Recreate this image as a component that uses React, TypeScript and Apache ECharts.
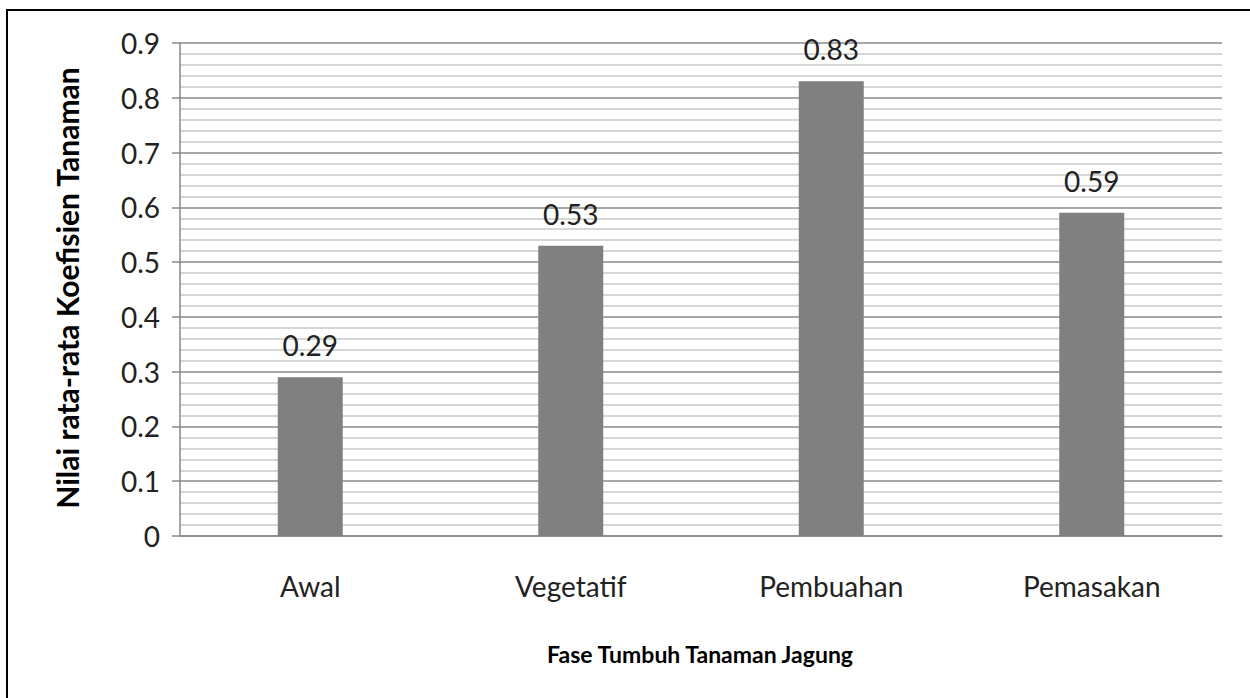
import React, { useEffect, useRef } from "react";
import * as echarts from "echarts";

const categories = ["Awal", "Vegetatif", "Pembuahan", "Pemasakan"];
const values = [0.29, 0.53, 0.83, 0.59];
const yTitle = "Nilai rata-rata Koefisien Tanaman";
const xTitle = "Fase Tumbuh Tanaman Jagung";

const FONT = "Lato, 'Open Sans', sans-serif";

export default function App() {
  const ref = useRef<HTMLDivElement>(null);
  useEffect(() => {
    if (!ref.current) return;
    const chart = echarts.init(ref.current, undefined, { renderer: "svg" });
    chart.setOption({
      animation: false,
      backgroundColor: "#ffffff",
      grid: { left: 180, right: 28, top: 43, bottom: 162, containLabel: false },
      graphic: [
        { type: "line", shape: { x1: 7, y1: 9, x2: 7, y2: 698 }, style: { stroke: "#000", lineWidth: 2 } },
        { type: "line", shape: { x1: 6, y1: 10, x2: 1250, y2: 10 }, style: { stroke: "#000", lineWidth: 2 } },
        {
          type: "text",
          x: 700,
          y: 654,
          style: { text: xTitle, font: `bold 23px ${FONT}`, fill: "#000", textAlign: "center", textVerticalAlign: "middle" },
        },
        {
          type: "text",
          x: 67,
          y: 288,
          rotation: Math.PI / 2,
          style: { text: yTitle, font: `bold 30px ${FONT}`, fill: "#000", textAlign: "center", textVerticalAlign: "middle" },
        },
      ],
      xAxis: {
        type: "category",
        data: categories,
        axisLine: { show: true, lineStyle: { color: "#888", width: 1.5 } },
        axisTick: { show: false },
        axisLabel: { color: "#222", fontFamily: FONT, fontSize: 28, margin: 36 },
        splitLine: { show: false },
      },
      yAxis: {
        type: "value",
        min: 0,
        max: 0.9,
        interval: 0.1,
        axisLine: { show: true, lineStyle: { color: "#888", width: 1.5 } },
        axisTick: { show: true, length: 8, lineStyle: { color: "#888", width: 1.5 } },
        axisLabel: {
          color: "#222",
          fontFamily: FONT,
          fontSize: 28,
          margin: 20,
          formatter: (v: number) => (v === 0 ? "0" : String(Math.round(v * 10) / 10)),
        },
        splitLine: { show: true, lineStyle: { color: "#8a8a8a", width: 1.5 } },
        minorTick: { show: false, splitNumber: 5 },
        minorSplitLine: { show: true, lineStyle: { color: "#c8c8c8", width: 1.5 } },
      },
      series: [
        {
          type: "bar",
          data: values,
          barWidth: 65,
          itemStyle: { color: "#808080" },
          label: {
            show: true,
            position: "top",
            distance: 18,
            color: "#222",
            fontFamily: FONT,
            fontSize: 28,
            formatter: (p: any) => p.value.toFixed(2),
          },
        },
      ],
    });
    return () => chart.dispose();
  }, []);
  return (
    <div
      ref={ref}
      style={{ position: "fixed", left: 0, top: 0, width: 1250, height: 698, background: "#fff" }}
    />
  );
}
